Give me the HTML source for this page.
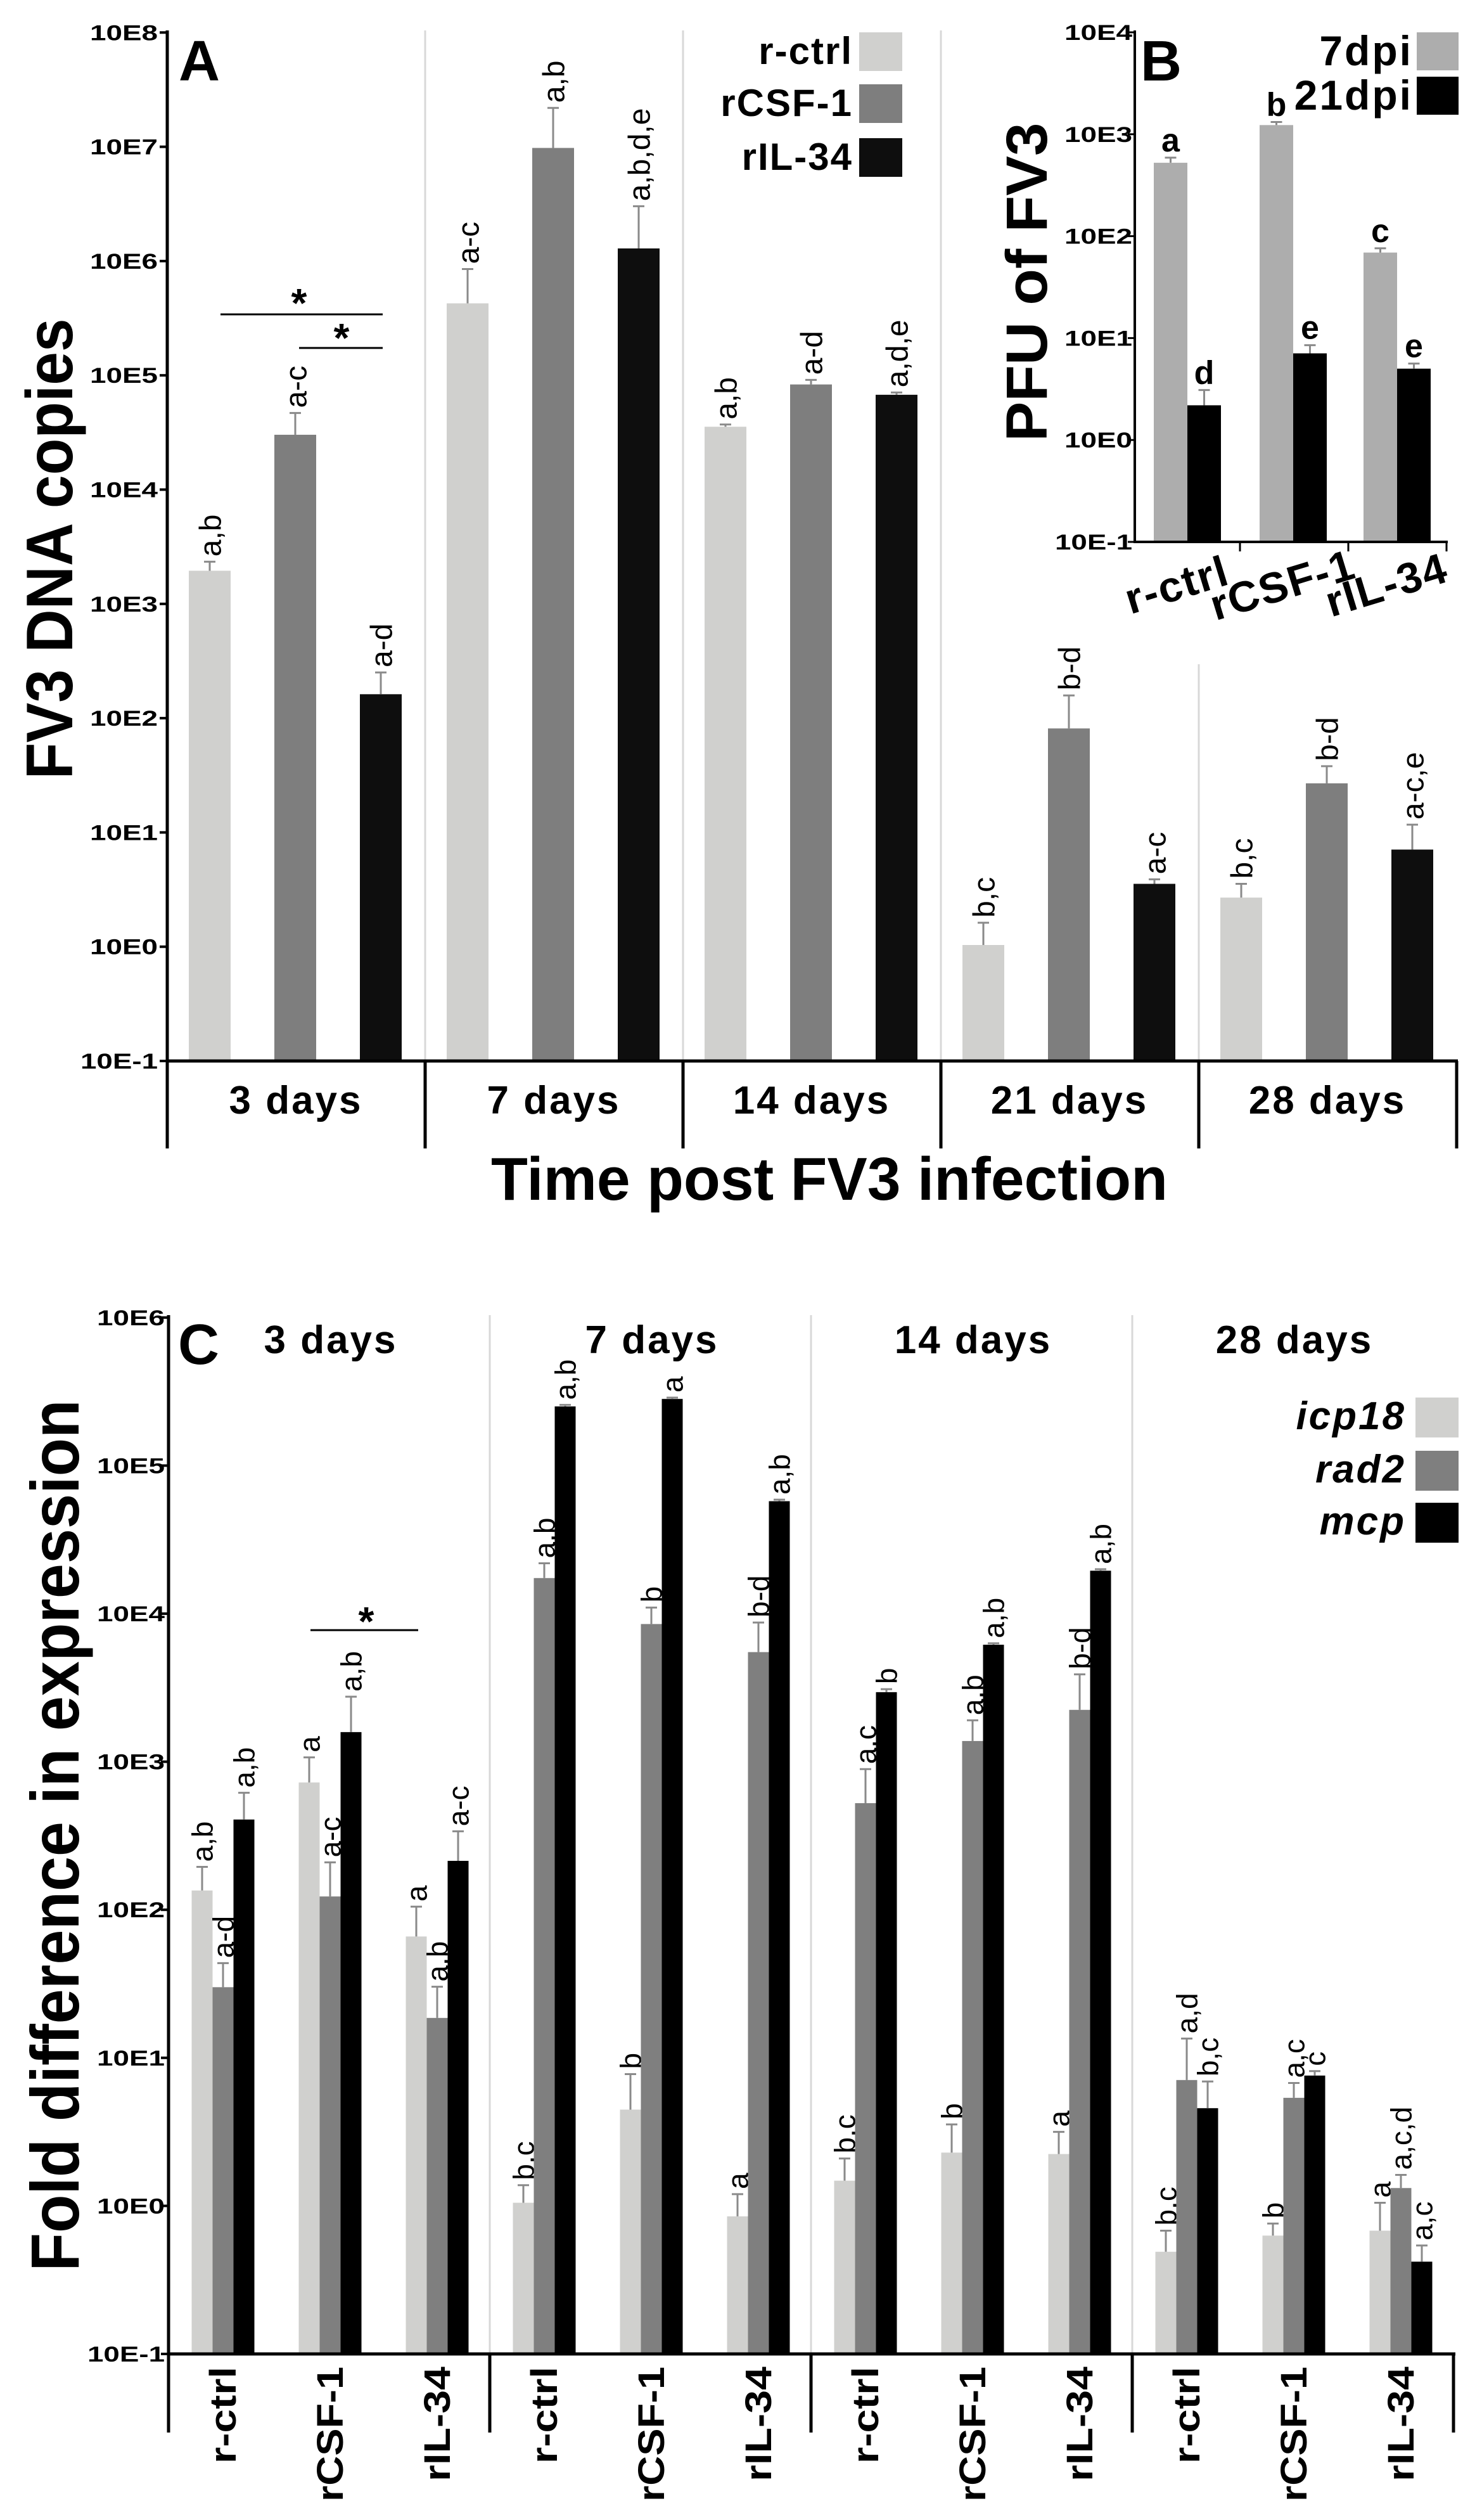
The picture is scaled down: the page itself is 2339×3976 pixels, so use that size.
<!DOCTYPE html>
<html><head><meta charset="utf-8">
<style>
html,body{margin:0;padding:0;background:#fff;}
svg{display:block;font-family:"Liberation Sans",Arial,sans-serif;}
</style></head>
<body>
<svg id="fig" xmlns="http://www.w3.org/2000/svg" width="2339" height="3976" viewBox="0 0 2339 3976">
<rect width="2339" height="3976" fill="#fff"/>
</svg>
<script>
// ---------- Panel A data ----------
const groupsA = ['3 days','7 days','14 days','21 days','28 days'];
const ctrlA = [1950, 426600, 35500, 1.035, 2.69];
const ctrlAErr = [2340, 851000, 37150, 1.62, 3.55];
const csfA = [30200, 9770000, 83200, 81.3, 26.9];
const csfAErr = [46800, 21900000, 91200, 158, 38];
const ilA = [162, 1290000, 67600, 3.55, 7.08];
const ilAErr = [251, 3020000, 70800, 3.89, 11.7];
const ctrlALab = ['a,b','a-c','a,b','b,c','b,c'];
const csfALab = ['a-c','a,b','a-d','b-d','b-d'];
const ilALab = ['a-d','a,b,d,e','a,d,e','a-c','a-c,e'];
const ticksA = ['10E-1','10E0','10E1','10E2','10E3','10E4','10E5','10E6','10E7','10E8'];
// ---------- Panel B data ----------
const catsB = ['r-ctrl','rCSF-1','rIL-34'];
const dpi7 = [525, 1230, 69];
const dpi7Err = [589, 1318, 76];
const dpi21 = [2.19, 7.08, 5.01];
const dpi21Err = [3.09, 8.51, 5.62];
const dpi7Lab = ['a','b','c'];
const dpi21Lab = ['d','e','e'];
const ticksB = ['10E-1','10E0','10E1','10E2','10E3','10E4'];
// ---------- Panel C data (group-major: 3d,7d,14d,28d x r-ctrl,rCSF-1,rIL-34) ----------
const groupsC = ['3 days','7 days','14 days','28 days'];
const subsC = ['r-ctrl','rCSF-1','rIL-34'];
const icp = [135, 724, 66, 1.05, 4.47, 0.85, 1.48, 2.29, 2.24, 0.49, 0.63, 0.68];
const icpErr = [195, 1070, 105, 1.38, 7.76, 1.2, 2.09, 3.55, 3.16, 0.68, 0.76, 1.05];
const rad2 = [30, 123, 18.6, 17400, 8510, 5500, 525, 1380, 2240, 7.08, 5.37, 1.32];
const rad2Err = [43.6, 209, 30.2, 21900, 11000, 8710, 891, 1905, 3890, 13.5, 6.76, 1.62];
const mcp = [407, 1585, 214, 251000, 282000, 57500, 2950, 6170, 19500, 4.57, 7.59, 0.42];
const mcpErr = [617, 2750, 339, 257000, 288000, 58900, 3090, 6310, 19950, 6.92, 8.13, 0.54];
const icpLab = ['a,b','a','a','b,c','b','a','b,c','b','a','b,c','b','a'];
const rad2Lab = ['a-d','a-c','a,b','a,b','b','b-d','a,c','a,b','b-d','a,d','a,c','a,c,d'];
const mcpLab = ['a,b','a,b','a-c','a,b','a','a,b','b','a,b','a,b','b,c','c','a,c'];
const ticksC = ['10E-1','10E0','10E1','10E2','10E3','10E4','10E5','10E6'];

const NS = 'http://www.w3.org/2000/svg';
const svg = document.getElementById('fig');
function el(tag, attrs, text){
  const e = document.createElementNS(NS, tag);
  for (const k in attrs) e.setAttribute(k, attrs[k]);
  if (text !== undefined) e.textContent = text;
  svg.appendChild(e);
  return e;
}
const L = Math.log10;
const yA = v => 1674 - (L(v) + 1) * 180.3;
const yB = v => 855 - (L(v) + 1) * 160.8;
const yC = v => 3714 - (L(v) + 1) * 233.6;

function bar(x, w, v, err, yf, color, lab, rot, name, fs){
  const yt = yf(v), base = yf(0.1);
  let r = el('rect', {x:x, y:yt, width:w, height:base-yt, fill:color});
  
  
  const cx = x + w/2, ye = yf(err);
  let e1 = el('line', {x1:cx, y1:yt, x2:cx, y2:ye, stroke:'#8a8a8a', 'stroke-width':3});
  
  
  el('line', {x1:cx-9, y1:ye, x2:cx+9, y2:ye, stroke:'#8a8a8a', 'stroke-width':3});
  let t;
  if (rot) {
    t = el('text', {x:0, y:0, 'font-size':fs, 'text-anchor':'start',
      transform:'translate(' + (cx + fs*0.36) + ',' + (ye - 8) + ') rotate(-90)'}, lab);
  } else {
    t = el('text', {x:cx, y:ye - 10, 'font-size':fs, 'font-weight':'bold', 'text-anchor':'middle'}, lab);
  }
  
  
}

// ================= PANEL A =================
const gxA = i => 264 + i * 407;
for (let i = 1; i <= 4; i++) {
  const top = i === 4 ? 1048 : 48;
  let d = el('line', {x1:gxA(i), y1:top, x2:gxA(i), y2:1674, stroke:'#d8d8d8', 'stroke-width':3});
  
  
}
ticksA.forEach((t, i) => {
  const y = 1674 - i * 180.3;
  let tt = el('text', {x:249, y:y + 12, 'font-size':34, 'font-weight':'bold', 'text-anchor':'end', textLength:(t.length===5?122:107), lengthAdjust:'spacingAndGlyphs'}, t);
  
  
  el('line', {x1:252, y1:y, x2:264, y2:y, stroke:'#000', 'stroke-width':4});
});
groupsA.forEach((g, i) => {
  const x0 = gxA(i);
  bar(x0 + 34, 66, ctrlA[i], ctrlAErr[i], yA, '#d0d0ce', ctrlALab[i], true, 'bar-a-rctrl-' + i, 48);
  bar(x0 + 169, 66, csfA[i], csfAErr[i], yA, '#7e7e7e', csfALab[i], true, 'bar-a-rcsf1-' + i, 48);
  bar(x0 + 304, 66, ilA[i], ilAErr[i], yA, '#0e0e0e', ilALab[i], true, 'bar-a-ril34-' + i, 48);
  let tl = el('text', {x:x0 + 203, y:1757, 'font-size':62, 'font-weight':'bold', 'text-anchor':'middle', 'letter-spacing':3}, g);
  
  
});
for (let i = 0; i <= 5; i++) {
  el('line', {x1:gxA(i), y1:1674, x2:gxA(i), y2:1812, stroke:'#000', 'stroke-width':5});
}
let axA = el('line', {x1:264, y1:48, x2:264, y2:1812, stroke:'#000', 'stroke-width':5});
 
let bxA = el('line', {x1:262, y1:1674, x2:2301, y2:1674, stroke:'#000', 'stroke-width':5});
 
el('line', {x1:348, y1:496, x2:604, y2:496, stroke:'#000', 'stroke-width':3});
el('text', {x:472, y:500, 'font-size':64, 'font-weight':'bold', 'text-anchor':'middle'}, '*');
el('line', {x1:472, y1:549, x2:604, y2:549, stroke:'#000', 'stroke-width':3});
el('text', {x:539, y:555, 'font-size':64, 'font-weight':'bold', 'text-anchor':'middle'}, '*');
let lA = el('text', {x:282, y:127, 'font-size':90, 'font-weight':'bold'}, 'A');
 
let ytA = el('text', {x:0, y:0, 'font-size':104, 'font-weight':'bold', 'text-anchor':'middle', textLength:727, lengthAdjust:'spacingAndGlyphs', transform:'translate(114,866) rotate(-90)'}, 'FV3 DNA copies');
 
let xtA = el('text', {x:1309, y:1893, 'font-size':96, 'font-weight':'bold', 'text-anchor':'middle', textLength:1068, lengthAdjust:'spacingAndGlyphs'}, 'Time post FV3 infection');
 
[['r-ctrl','#d0d0ce',51],['rCSF-1','#7e7e7e',133],['rIL-34','#0e0e0e',218]].forEach(([t,c,y]) => {
  let tx = el('text', {x:1346, y:y + 50, 'font-size':60, 'font-weight':'bold', 'text-anchor':'end', 'letter-spacing':2}, t);
   
  el('rect', {x:1356, y:y, width:68, height:61, fill:c});
});

// ================= PANEL B =================
const gxB = [1821, 1988, 2152];
ticksB.forEach((t, i) => {
  const y = 855 - i * 160.8;
  let tt = el('text', {x:1787, y:y + 12, 'font-size':34, 'font-weight':'bold', 'text-anchor':'end', textLength:(t.length===5?122:107), lengthAdjust:'spacingAndGlyphs'}, t);
  
  
  el('line', {x1:1780, y1:y, x2:1791, y2:y, stroke:'#000', 'stroke-width':3});
});
catsB.forEach((c, i) => {
  bar(gxB[i], 53, dpi7[i], dpi7Err[i], yB, '#adadad', dpi7Lab[i], false, 'bar-b-7dpi-' + i, 52);
  bar(gxB[i] + 53, 53, dpi21[i], dpi21Err[i], yB, '#000', dpi21Lab[i], false, 'bar-b-21dpi-' + i, 52);
  const cx = gxB[i] + 53;
  let tl = el('text', {x:0, y:0, 'font-size':68, 'font-weight':'bold', 'text-anchor':'middle', 'letter-spacing':2, transform:'translate(' + (cx - 10) + ',' + 945 + ') rotate(-17)'}, c);
  
  
});
[1957, 2128, 2283].forEach(x => el('line', {x1:x, y1:855, x2:x, y2:870, stroke:'#000', 'stroke-width':3}));
let axB = el('line', {x1:1791, y1:48, x2:1791, y2:857, stroke:'#000', 'stroke-width':4});
 
let bxB = el('line', {x1:1789, y1:855, x2:2285, y2:855, stroke:'#000', 'stroke-width':4});
 
let lB = el('text', {x:1800, y:127, 'font-size':90, 'font-weight':'bold'}, 'B');
 
let ytB = el('text', {x:0, y:0, 'font-size':92, 'font-weight':'bold', 'text-anchor':'middle', textLength:503, lengthAdjust:'spacingAndGlyphs', transform:'translate(1652,445) rotate(-90)'}, 'PFU of FV3');
 
[['7dpi','#adadad',51],['21dpi','#000',121]].forEach(([t,c,y]) => {
  let tx = el('text', {x:2230, y:y + 52, 'font-size':66, 'font-weight':'bold', 'text-anchor':'end', 'letter-spacing':3}, t);
   
  el('rect', {x:2236, y:y, width:66, height:60, fill:c});
});

// ================= PANEL C =================
const gxC = i => 266 + i * 507;
const subOff = [86, 255, 424];
for (let i = 1; i <= 3; i++) {
  let d = el('line', {x1:gxC(i), y1:2075, x2:gxC(i), y2:3714, stroke:'#d8d8d8', 'stroke-width':3});
  
  
}
ticksC.forEach((t, i) => {
  const y = 3714 - i * 233.6;
  let tt = el('text', {x:260, y:y + 12, 'font-size':34, 'font-weight':'bold', 'text-anchor':'end', textLength:(t.length===5?122:107), lengthAdjust:'spacingAndGlyphs'}, t);
  
  
  el('line', {x1:254, y1:y, x2:266, y2:y, stroke:'#000', 'stroke-width':4});
});
const subLen = [153, 213, 181];
groupsC.forEach((g, gi) => {
  const x0 = gxC(gi);
  let gt = el('text', {x:x0 + 256, y:2135, 'font-size':62, 'font-weight':'bold', 'text-anchor':'middle', 'letter-spacing':3}, g);
  
  
  subsC.forEach((s, si) => {
    const k = gi * 3 + si;
    const c = x0 + subOff[si];
    bar(c - 49.5, 33, icp[k], icpErr[k], yC, '#d0d0ce', icpLab[k], true, 'bar-c-icp18-' + k, 46);
    bar(c - 16.5, 33, rad2[k], rad2Err[k], yC, '#7f7f7f', rad2Lab[k], true, 'bar-c-rad2-' + k, 46);
    bar(c + 16.5, 33, mcp[k], mcpErr[k], yC, '#000', mcpLab[k], true, 'bar-c-mcp-' + k, 46);
    let sl = el('text', {x:0, y:0, 'font-size':58, 'font-weight':'bold', 'text-anchor':'end', textLength:subLen[si], lengthAdjust:'spacingAndGlyphs', transform:'translate(' + (c + 20) + ',3734) rotate(-90)'}, s);
    
    
  });
});
for (let i = 0; i <= 4; i++) {
  el('line', {x1:gxC(i), y1:3714, x2:gxC(i), y2:3838, stroke:'#000', 'stroke-width':5});
}
let axC = el('line', {x1:266, y1:2075, x2:266, y2:3838, stroke:'#000', 'stroke-width':5});
 
let bxC = el('line', {x1:264, y1:3714, x2:2297, y2:3714, stroke:'#000', 'stroke-width':5});
 
el('line', {x1:490, y1:2572, x2:660, y2:2572, stroke:'#000', 'stroke-width':3});
el('text', {x:578, y:2580, 'font-size':64, 'font-weight':'bold', 'text-anchor':'middle'}, '*');
let lC = el('text', {x:281, y:2152, 'font-size':90, 'font-weight':'bold'}, 'C');
 
let ytC = el('text', {x:0, y:0, 'font-size':108, 'font-weight':'bold', 'text-anchor':'middle', textLength:1375, lengthAdjust:'spacingAndGlyphs', transform:'translate(124,2896) rotate(-90)'}, 'Fold difference in expression');
 
[['icp18','#d0d0ce',2205],['rad2','#7f7f7f',2289],['mcp','#000',2371]].forEach(([t,c,y]) => {
  let tx = el('text', {x:2219, y:y + 50, 'font-size':62, 'font-weight':'bold', 'font-style':'italic', 'text-anchor':'end', 'letter-spacing':3}, t);
   
  el('rect', {x:2234, y:y, width:68, height:63, fill:c});
});
</script>
</body></html>
